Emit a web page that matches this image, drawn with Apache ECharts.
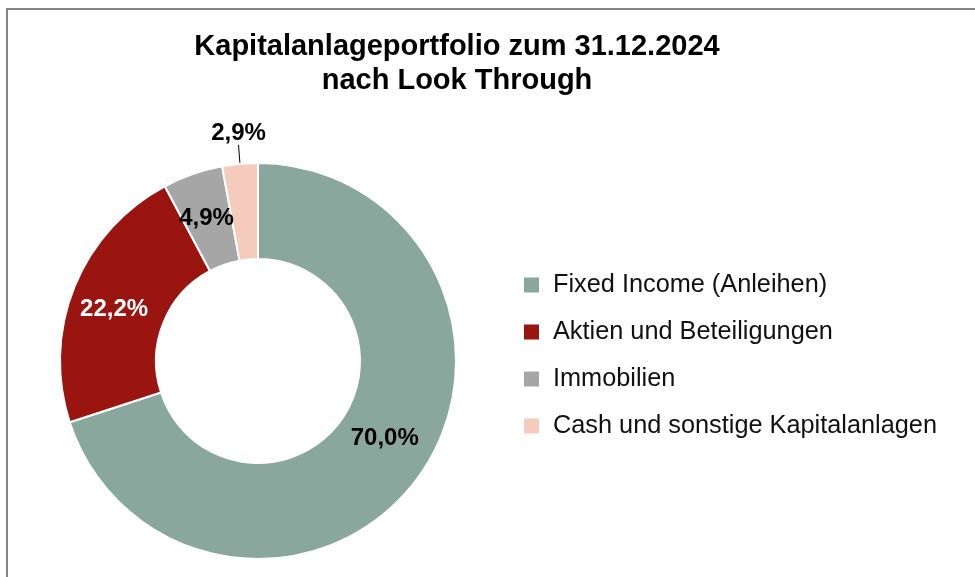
<!DOCTYPE html>
<html>
<head>
<meta charset="utf-8">
<script src="https://cdn.jsdelivr.net/npm/echarts@6/dist/echarts.min.js"></script>
<style>
    html, body { margin: 0; padding: 0; background: #fff; overflow: hidden; }
    #frame {
        position: absolute; left: 6px; top: 8px;
        width: 1000px; height: 600px;
        border: 2px solid #868686;
    }
    #chart { position: absolute; left: 0; top: 0; width: 975px; height: 577px; }
</style>
</head>
<body>
<div id="frame"></div>
<div id="chart"></div>
<script>
    // Anteile in %
    const categories = ['Fixed Income (Anleihen)', 'Aktien und Beteiligungen', 'Immobilien', 'Cash und sonstige Kapitalanlagen'];
    const values = [70.0, 22.2, 4.9, 2.9];
    const colors = ['#8aa79d', '#9a1410', '#a6a6a6', '#f4cbbd'];
    const labelColors = ['#000', '#fff', '#000', '#000'];
    // kleine Verschiebung der Beschriftungen wie im Original (Excel)
    const labelShift = [[3, -13], [-2, 6], [-1, 2], [0, 0]];

    const font = '"Liberation Sans", Arial, sans-serif';

    let chart = echarts.init(document.getElementById('chart'));

    let pieData = categories.map(function (name, i) {
        let item = {
            name: name,
            value: values[i],
            itemStyle: { color: colors[i] },
            label: { color: labelColors[i] }
        };
        // kleiner Anteil: Beschriftung ausserhalb mit Linie
        if (i === 3) {
            item.label = {
                position: 'outside',
                color: labelColors[i]
            };
            item.labelLine = { show: true, length: 16, length2: 0 };
        }
        return item;
    });

    let option = {
        animation: false,
        title: {
            text: 'Kapitalanlageportfolio zum 31.12.2024\nnach Look Through',
            left: 452,
            top: 25,
            textAlign: 'center',
            textStyle: {
                fontFamily: font,
                fontSize: 29,
                fontWeight: 'bold',
                color: '#000',
                lineHeight: 34
            }
        },
        legend: {
            orient: 'vertical',
            left: 522,
            top: 270,
            padding: 0,
            icon: 'rect',
            itemWidth: 17,
            itemHeight: 17,
            itemGap: 17,
            data: categories,
            textStyle: {
                fontFamily: font,
                fontSize: 25.3,
                color: '#111',
                lineHeight: 30,
                padding: [0, 0, 0, 8]
            }
        },
        series: [
            {
                type: 'pie',
                center: [258, 361],
                radius: [102, 198],
                startAngle: 90,
                clockwise: true,
                avoidLabelOverlap: false,
                itemStyle: {
                    borderColor: '#fff',
                    borderWidth: 2
                },
                label: {
                    show: true,
                    position: 'inside',
                    fontFamily: font,
                    fontSize: 24,
                    fontWeight: 'bold',
                    formatter: function (p) {
                        return p.value.toFixed(1).replace('.', ',') + '%';
                    }
                },
                labelLine: {
                    show: false,
                    lineStyle: { color: '#000', width: 1 }
                },
                labelLayout: function (params) {
                    let i = params.dataIndex;
                    if (i !== 3) {
                        return { dx: labelShift[i][0], dy: labelShift[i][1] };
                    }
                    let pts = params.labelLinePoints;
                    let end = pts[pts.length - 1];
                    return {
                        x: end[0],
                        y: end[1] - 3,
                        align: 'center',
                        verticalAlign: 'bottom'
                    };
                },
                emphasis: { disabled: true },
                data: pieData
            }
        ]
    };

    chart.setOption(option);
</script>
</body>
</html>
